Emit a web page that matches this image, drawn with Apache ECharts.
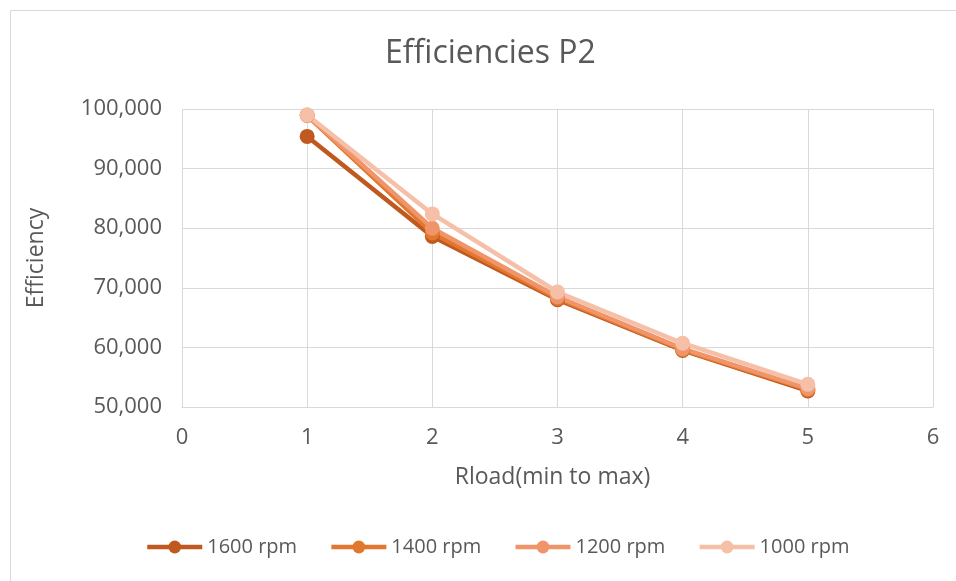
<!DOCTYPE html>
<html>
<head>
<meta charset="utf-8">
<script src="https://cdn.jsdelivr.net/npm/echarts@6/dist/echarts.min.js"></script>
<style>
  html, body { margin: 0; padding: 0; background: #fff; }
  #chart { width: 956px; height: 581px; }
</style>
</head>
<body>
<div id="chart"></div>
<script>
var chart = echarts.init(document.getElementById('chart'));

// x positions (Rload steps) and efficiencies per speed
var rload = [1, 2, 3, 4, 5];
var eff1600 = [95.4, 78.6, 68.0, 59.5, 52.7];
var eff1400 = [98.9, 79.2, 68.2, 59.6, 52.9];
var eff1200 = [99.0, 80.0, 68.5, 59.8, 53.1];
var eff1000 = [99.0, 82.4, 69.3, 60.7, 53.8];
var names = ['1600 rpm', '1400 rpm', '1200 rpm', '1000 rpm'];
var colors = ['#C0591F', '#E2782F', '#F0956A', '#F5BFA8'];

function pairs(ys) {
  return rload.map(function (x, i) { return [x, ys[i]]; });
}

var font = '"Open Sans", "Liberation Sans", sans-serif';
var seriesData = [eff1600, eff1400, eff1200, eff1000];

var option = {
  animation: false,
  textStyle: { fontFamily: font },
  title: {
    text: 'Efficiencies P2',
    left: 380,
    top: 33,
    textStyle: { fontSize: 32, fontWeight: 'normal', color: '#595959', fontFamily: font }
  },
  graphic: [{
    type: 'rect',
    shape: { x: 10.5, y: 10.5, width: 950, height: 575 },
    style: { fill: 'none', stroke: '#D9D9D9', lineWidth: 1 },
    silent: true
  }],
  grid: { left: 182, right: 23, top: 109, bottom: 174 },
  legend: {
    bottom: 19,
    left: 140,
    itemWidth: 55,
    itemHeight: 16,
    itemGap: 32,
    data: names,
    lineStyle: { width: 4.5 },
    textStyle: { fontSize: 20, color: '#595959', fontFamily: font }
  },
  xAxis: {
    type: 'value',
    min: 0,
    max: 6,
    interval: 1,
    name: 'Rload(min to max)',
    nameLocation: 'middle',
    nameGap: 59,
    nameTextStyle: { fontSize: 23, color: '#595959', padding: [0, 10, 0, 0] },
    axisLine: { lineStyle: { color: '#D9D9D9' } },
    axisTick: { show: false },
    axisLabel: { fontSize: 22, color: '#595959', margin: 20 },
    splitLine: { show: true, lineStyle: { color: '#D9D9D9' } }
  },
  yAxis: {
    type: 'value',
    min: 50,
    max: 100,
    interval: 10,
    name: 'Efficiency',
    nameLocation: 'middle',
    nameGap: 134,
    nameTextStyle: { fontSize: 23, color: '#595959' },
    axisLine: { show: false },
    axisTick: { show: false },
    axisLabel: {
      fontSize: 22,
      color: '#595959',
      margin: 20,
      formatter: function (v) { return v.toFixed(3).replace('.', ','); }
    },
    splitLine: { show: true, lineStyle: { color: '#D9D9D9' } }
  },
  series: seriesData.map(function (d, i) {
    return {
      name: names[i],
      type: 'line',
      data: pairs(d),
      symbol: 'circle',
      symbolSize: 15,
      lineStyle: { width: 4.5, color: colors[i] },
      itemStyle: { color: colors[i] }
    };
  })
};

chart.setOption(option);
</script>
</body>
</html>
